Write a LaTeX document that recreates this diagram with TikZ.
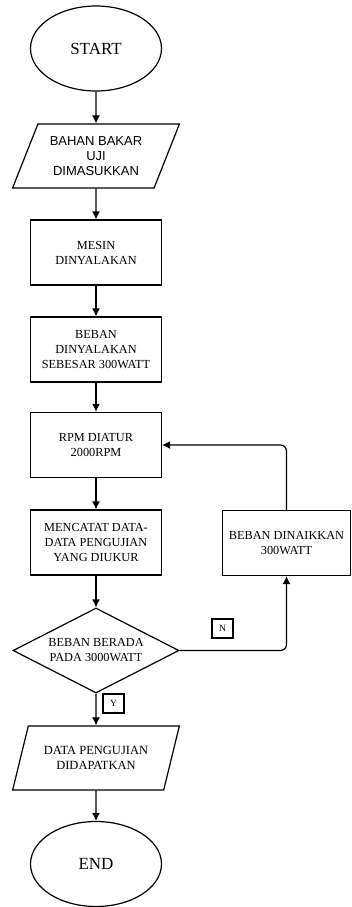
\documentclass[tikz,border=0pt]{standalone}
\usepackage{fontspec}
\setmainfont{Liberation Serif}
\newfontfamily\arialfont{Liberation Sans}
\usetikzlibrary{shapes.geometric,arrows.meta}
\tikzset{
  terminal/.style={draw,ellipse,line width=1.2pt,minimum width=131pt,minimum height=85pt,inner sep=0pt,font=\fontsize{17}{18}\selectfont},
  process/.style={draw,rectangle,line width=1.2pt,minimum width=131pt,minimum height=65pt,inner sep=0pt,align=center,font=\fontsize{12.3}{15}\selectfont},
  io/.style={draw,trapezium,trapezium left angle=62.7,trapezium right angle=117.3,trapezium stretches=true,line width=1.2pt,minimum width=167pt,minimum height=64pt,inner sep=0pt,align=center,font=\fontsize{12.5}{15}\selectfont},
  decision/.style={draw,diamond,aspect=2,line width=1.2pt,minimum width=166pt,minimum height=85pt,inner sep=0pt,align=center,font=\fontsize{12.3}{15}\selectfont},
  answer/.style={draw,rectangle,line width=1.2pt,minimum width=21pt,minimum height=19pt,inner sep=0pt,font=\fontsize{9.5}{10}\selectfont},
  flow/.style={->,line width=1.2pt}
}
\begin{document}
\begin{tikzpicture}[x=1pt,y=-1pt,>={Latex[length=8pt,width=8pt]}]
 \useasboundingbox (0,0) rectangle (351,907);
 \node[terminal] (start) at (96,48.5) {START};
 \node[io,font=\arialfont\fontsize{13}{15}\selectfont] (fuel) at (96,156) {BAHAN BAKAR\\UJI\\DIMASUKKAN};
 \node[process] (engine) at (96,252.5) {MESIN\\DINYALAKAN};
 \node[process] (load) at (96,349.5) {BEBAN\\DINYALAKAN\\SEBESAR 300WATT};
 \node[process] (rpm) at (96,445) {RPM DIATUR\\2000RPM};
 \node[process] (record) at (96,542.5) {MENCATAT DATA-\\DATA PENGUJIAN\\YANG DIUKUR};
 \node[decision] (check) at (96,650.5) {BEBAN BERADA\\PADA 3000WATT};
 \node[process,minimum width=128pt] (raise) at (286.5,543) {BEBAN DINAIKKAN\\300WATT};
 \node[io] (result) at (96,758) {DATA PENGUJIAN\\DIDAPATKAN};
 \node[terminal] (end) at (96,864) {END};
 \node[answer] (no) at (222.5,628.5) {N};
 \node[answer] (yes) at (113.5,703.5) {Y};
 \draw[flow] (start) -- (fuel);
 \draw[flow] (fuel) -- (engine);
 \draw[flow] (engine) -- (load);
 \draw[flow] (load) -- (rpm);
 \draw[flow] (rpm) -- (record);
 \draw[flow] (record) -- (check);
 \draw[flow] (check) -- (result);
 \draw[flow] (result) -- (end);
 \draw[flow,rounded corners=6pt] (check.east) -| (raise.south);
 \draw[flow,rounded corners=6pt] (raise.north) |- (rpm.east);
\end{tikzpicture}
\end{document}
